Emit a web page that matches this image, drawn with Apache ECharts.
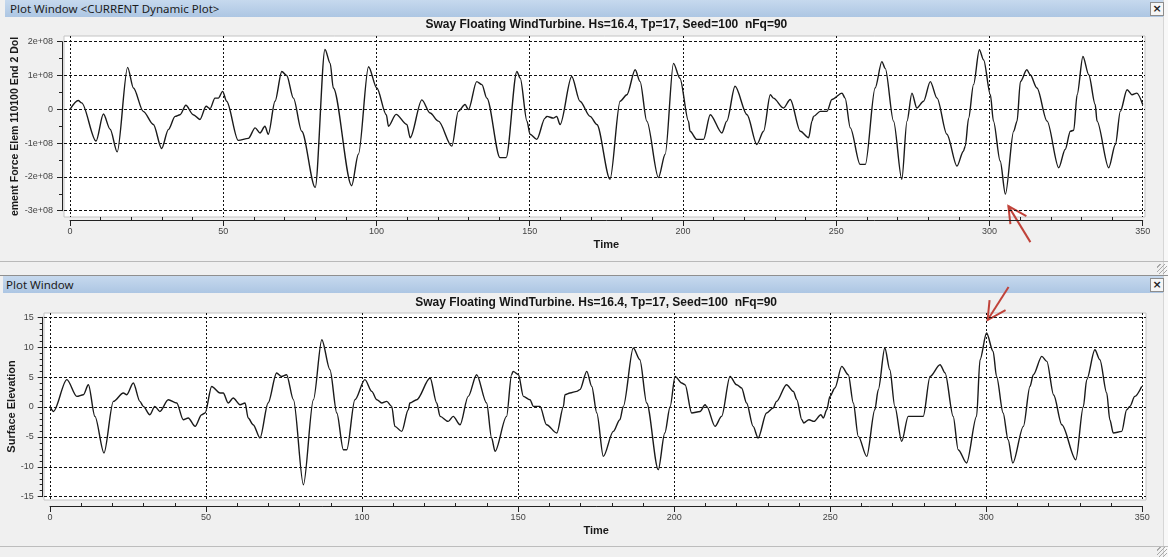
<!DOCTYPE html>
<html>
<head>
<meta charset="utf-8">
<title>Sway Floating WindTurbine</title>
<script src="https://cdn.jsdelivr.net/npm/echarts@6/dist/echarts.min.js"></script>
<style>
  html, body { margin: 0; padding: 0; width: 1168px; height: 557px; overflow: hidden; background: #f0f0f0; }
  .bar { position: absolute; height: 17px; background: linear-gradient(#c6d9ee, #adc6e3); color: #1b1b1b;
         font: 11.5px "Noto Sans", "Open Sans", sans-serif; line-height: 17px; box-sizing: border-box; white-space: pre; }
  .hline { position: absolute; left: 0; width: 1168px; height: 1px; }
  .close { position: absolute; width: 12px; height: 12px; border: 1px solid #8d8d8d; background: #f6f6f6;
           font: bold 11px "DejaVu Sans", sans-serif; line-height: 11px; text-align: center; color: #222; }
  .grip { position: absolute; width: 10px; height: 10px;
          background: repeating-linear-gradient(135deg, transparent 0 2px, #a8a8a8 2px 3px); }
  #chart { position: absolute; left: 0; top: 0; width: 1168px; height: 557px; }
</style>
</head>
<body>
<!-- window frames -->
<div style="position:absolute;left:1163px;top:0;width:5px;height:557px;background:#f8f8f8;border-left:1px solid #d6d6d6;"></div>
<div class="bar" style="left:5px;top:0;width:1158px;padding-left:5px;">Plot Window &lt;CURRENT Dynamic Plot&gt;</div>
<div class="close" style="left:1150px;top:2px;">×</div>
<div class="hline" style="top:261px;background:#b9b9b9;"></div>
<div class="grip" style="left:1157px;top:264px;"></div>
<div class="hline" style="top:275px;background:#8f8f8f;"></div>
<div class="bar" style="left:3px;top:276px;width:1160px;padding-left:3px;">Plot Window</div>
<div class="close" style="left:1150px;top:278px;">×</div>
<div class="hline" style="top:546px;background:#bdbdbd;"></div>
<div class="grip" style="left:1157px;top:547px;"></div>
<div id="chart"></div>
<script>
// ---- values ----
const timeTicks = [0, 50, 100, 150, 200, 250, 300, 350];
const forceTicks = [-3, -2, -1, 0, 1, 2];            // in units of 1e+08
const elevTicks = [-15, -10, -5, 0, 5, 10, 15];
const chartTitle = 'Sway Floating WindTurbine. Hs=16.4, Tp=17, Seed=100  nFq=90';
const timeName = 'Time';
const forceName = 'ement Force Elem 110100 End 2 Dol';
const elevName = 'Surface Elevation';

// moment force, units of 1e+08
const forceTime = [0,2.7,3.8,8.5,10.9,13.1,15.4,18.8,20.7,23.9,27.2,29.9,32.1,34.3,35.9,37.8,40.2,42.4,44.4,45.7,
  47.3,48.4,49.8,51.1,54.9,58.2,60.4,62.0,63.6,64.7,66.9,69.1,70.7,72.9,75.6,80.0,83.2,84.9,85.9,91.9,
  94.1,97.4,100.1,103.2,103.9,106.4,109.9,111.0,114.8,117.5,120.2,124.6,126.7,128.9,130.0,132.7,134.4,136.0,140.3,142.3,
  145.8,146.9,149.1,150.1,152.3,155.0,155.6,157.7,158.8,159.9,163.7,166.4,169.7,171.9,176.2,179.5,181.7,184.4,186.0,188.2,
  192.0,194.2,196.9,199.0,201.8,202.3,204.5,206.7,208.9,212.7,214.3,217.0,220.9,224.1,226.3,228.5,229.5,232.8,235.0,238.3,
  241.0,242.1,242.6,244.8,247.0,248.6,251.9,252.9,254.6,257.8,259.5,262.7,264.9,266.0,268.7,271.4,273.1,274.7,276.3,278.5,
  280.7,282.9,286.1,289.4,291.5,292.1,293.2,294.8,296.7,298.1,300.3,301.3,303.5,305.2,307.9,309.0,310.1,312.2,313.3,315.5,
  318.8,322.6,324.7,326.4,327.5,328.6,330.5,332.4,334.5,335.1,338.9,341.1,342.7,344.9,346.5,348.1,350.0];
const forceValue = [0,0.26,0.19,-0.94,-0.14,-0.59,-1.26,1.24,0.63,-0.06,-0.45,-1.16,-0.6,-0.21,-0.16,0.12,-0.16,-0.30,0.09,0.02,
  0.33,0.33,0.53,0.24,-0.92,-0.86,-0.55,-0.70,-0.50,-0.74,0.24,1.12,1.00,0.33,-0.65,-2.31,1.77,1.36,0.63,-2.26,
  -1.33,1.26,0.63,-0.16,-0.50,-0.15,-0.45,-0.84,0.28,-0.11,-0.35,-1.09,-0.06,0.14,-0.01,0.82,0.73,0.33,-1.43,-1.43,
  1.12,0.92,-0.35,-0.74,-0.89,-0.26,-0.21,-0.26,-0.21,-0.45,0.97,0.24,-0.21,-0.45,-2.07,0.24,0.43,1.17,0.82,-0.35,
  -2.02,-1.33,1.36,0.92,-0.35,-0.65,-0.89,-0.89,-0.16,-0.70,-0.35,0.68,-0.16,-1.04,-0.65,0.43,0.33,0.04,0.29,-0.65,
  -0.84,-0.35,-0.21,-0.06,-0.06,0.29,0.48,0.33,-0.55,-1.63,-1.63,0.63,1.41,1.21,-0.35,-2.07,-0.35,0.48,0.04,0.24,
  0.82,0.33,-0.74,-1.68,-1.24,-1.09,-0.26,0.73,1.76,1.46,0.43,-0.35,-1.53,-2.51,-0.65,-0.35,0.82,1.17,1.02,0.63,
  -0.35,-1.73,-1.19,-0.65,-0.62,0.43,1.56,1.02,0.14,-0.35,-1.73,-1.04,-0.06,0.58,0.43,0.48,0.14];

// surface elevation
const elevTime = [0,1.1,5.4,8.6,10.7,12.3,14.4,17.3,20.3,23.5,24.6,26.7,28.8,29.9,32.0,33.6,35.2,37.9,40.6,42.7,
  44.3,46.5,48.6,49.7,51.8,54.5,55.5,57.1,58.7,60.9,62.5,63.5,65.1,67.3,69.9,72.6,74.2,75.8,78.0,81.2,
  84.4,87.1,89.7,91.9,94.0,95.1,97.7,100.9,103.1,104.7,106.3,107.9,109.5,110.5,112.7,114.8,115.3,117.5,121.8,123.9,
  125.0,127.6,129.2,131.4,134.0,136.7,139.9,141.5,142.6,146.3,147.9,148.4,150.1,151.7,153.8,154.9,157.0,159.1,162.4,164.5,
  165.0,166.6,168.8,169.8,172.0,173.6,175.2,177.3,180.5,182.6,183.7,186.9,189.0,191.2,194.9,197.0,198.7,200.3,202.4,203.5,
  205.6,208.3,209.9,210.4,213.1,215.2,217.9,220.0,221.6,223.2,225.3,226.9,229.6,231.7,232.8,236.0,238.2,239.3,240.9,241.5,
  243.2,244.8,247.0,247.8,248.9,249.9,251.5,253.7,255.8,257.4,259.0,261.7,264.3,265.4,267.5,269.1,270.7,272.9,275.0,277.7,
  279.8,282.0,285.2,286.8,289.4,291.0,293.7,296.9,298.0,300.1,302.2,303.3,305.4,307.0,308.5,311.9,314.0,315.1,317.8,319.4,
  321.6,324.2,328.7,331.1,332.2,334.8,336.4,338.6,339.6,340.7,343.4,345.0,346.0,347.6,349.8];
const elevValue = [0.1,-0.74,4.57,1.77,2.06,3.73,-1.57,-7.69,0.94,2.34,2.06,4.01,0.94,0.1,-1.29,0.1,-0.74,1.22,0.67,-2.12,
  -1.84,-3.24,-1.29,-1.0,3.44,2.34,2.34,0.67,1.5,0.38,0.67,-1.84,-2.96,-5.18,0.67,5.69,5.12,5.4,1.22,-12.99,
  1.22,11.25,6.24,-1.0,-7.14,-7.14,1.22,4.57,2.61,1.22,0.67,0.94,0.1,-3.24,-4.08,-0.45,0.67,1.22,4.85,0.67,
  -1.57,-2.41,-1.57,-2.96,1.77,5.4,0.67,-5.18,-7.42,-1.57,5.4,5.95,5.4,1.77,1.22,0.1,0.1,-2.96,-4.35,0.05,
  2.06,2.34,2.61,2.9,5.95,3.44,-1.0,-8.26,-4.08,-2.12,0.1,9.87,7.91,0.67,-10.48,-4.35,0.05,5.12,4.01,3.73,
  -1.0,-0.74,0.38,0.1,-3.24,-1.57,5.12,3.73,3.18,0.67,-3.24,-5.18,-1.0,-0.17,0.94,3.73,2.61,1.22,-2.12,-2.68,
  -2.12,-2.41,-1.29,-1.84,-0.45,1.77,3.18,6.79,5.4,0.67,-4.92,-8.26,-0.45,2.9,9.87,6.24,0.1,-5.75,-1.57,-1.57,
  -1.57,5.12,7.07,5.69,-1.57,-7.14,-9.36,-1.57,7.91,12.37,9.3,5.12,-1.0,-5.47,-9.36,-3.24,3.44,5.4,8.46,7.63,
  2.0,-2.96,-8.81,0.05,4.57,9.58,7.91,2.34,-2.12,-4.35,-4.08,-0.45,0.1,1.77,3.44];

// ---- layout (px) ----
const FONT = '"Liberation Sans", Arial, sans-serif';
const panels = [
  { box: { l: 64, t: 36, r: 1145, b: 217 },      // white plotting surface
    data: { l: 70, t: 41.7, r: 1142.7, b: 210.7 },// where the tick range sits
    ticksY: forceTicks, yMinor: 2, yOff: 8, xOff: 9.3, titleY: 25,
    name: forceName, nameX: 15, nameSize: 10.5,
    fmt: v => v === 0 ? '0' : (v < 0 ? '-' : '') + Math.abs(v) + 'e+08',
    time: forceTime, value: forceValue },
  { box: { l: 44, t: 313, r: 1146, b: 500 },
    data: { l: 50, t: 317.3, r: 1142.3, b: 496.7 },
    ticksY: elevTicks, yMinor: 5, yOff: 7.3, xOff: 9.3, titleY: 303,
    name: elevName, nameX: 12, nameSize: 11,
    fmt: v => String(v),
    time: elevTime, value: elevValue }
];

// value range that fills the surface box while keeping the ticks at data.l/r/t/b
function extent(lo, hi, pLo, pHi, bLo, bHi) {
  const s = (pHi - pLo) / (hi - lo);
  return [lo - (pLo - bLo) / s, hi + (bHi - pHi) / s];
}

const grid = [], xAxis = [], yAxis = [], series = [], graphic = [];
const ink = '#111';
const hidden = { show: false, onZero: false };
panels.forEach((p, i) => {
  const yLo = p.ticksY[0], yHi = p.ticksY[p.ticksY.length - 1];
  const tLo = timeTicks[0], tHi = timeTicks[timeTicks.length - 1];
  const xe = extent(tLo, tHi, p.data.l, p.data.r, p.box.l, p.box.r);
  // vertical pixel axis runs downward, so map top edge to yHi
  const ys = (p.data.b - p.data.t) / (yHi - yLo);
  const yMax = yHi + (p.data.t - p.box.t) / ys;
  const yMin = yLo - (p.box.b - p.data.b) / ys;

  // surface grid: white background, dashed grid, the trace
  grid.push({ left: p.box.l, top: p.box.t, width: p.box.r - p.box.l, height: p.box.b - p.box.t,
              show: true, backgroundColor: '#ffffff', borderColor: '#c4c4c4', borderWidth: 1 });
  // axis grid: exactly the tick range, carries the offset axes
  grid.push({ left: p.data.l, top: p.data.t, width: p.data.r - p.data.l, height: p.data.b - p.data.t, show: false });

  const g0 = 2 * i, g1 = 2 * i + 1;
  xAxis.push({ gridIndex: g0, type: 'value', min: xe[0], max: xe[1],
    axisLine: hidden, axisLabel: { show: false },
    axisTick: { show: false, customValues: timeTicks },
    splitLine: { show: true, lineStyle: { color: ink, width: 1, type: [2, 2] } } });
  xAxis.push({ gridIndex: g1, type: 'value', min: tLo, max: tHi, interval: 50, offset: p.xOff, position: 'bottom',
    axisLine: { show: true, onZero: false, lineStyle: { color: '#222', width: 1 } },
    axisTick: { show: true, inside: false, length: 6, lineStyle: { color: '#222' } },
    minorTick: { show: true, splitNumber: 5, length: -3, lineStyle: { color: '#222' } },
    axisLabel: { margin: 7, fontSize: 9, color: '#444', fontFamily: FONT },
    splitLine: { show: false },
    name: timeName, nameLocation: 'middle', nameGap: 19,
    nameTextStyle: { fontSize: 11, fontWeight: 'bold', color: '#1a1a1a', fontFamily: FONT } });

  yAxis.push({ gridIndex: g0, type: 'value', min: yMin, max: yMax,
    axisLine: hidden, axisLabel: { show: false },
    axisTick: { show: false, customValues: p.ticksY },
    splitLine: { show: true, lineStyle: { color: ink, width: 1, type: [3, 2] } } });
  yAxis.push({ gridIndex: g1, type: 'value', min: yLo, max: yHi, interval: p.ticksY[1] - p.ticksY[0],
    offset: p.yOff, position: 'left',
    axisLine: { show: true, onZero: false, lineStyle: { color: '#222', width: 1 } },
    axisTick: { show: true, inside: false, length: 5, lineStyle: { color: '#222' } },
    minorTick: { show: true, splitNumber: p.yMinor, length: 3, lineStyle: { color: '#222' } },
    axisLabel: { margin: 9, fontSize: 9, color: '#444', fontFamily: FONT, formatter: p.fmt },
    splitLine: { show: false } });

  series.push({ type: 'line', xAxisIndex: g0, yAxisIndex: g0,
    data: p.time.map((t, k) => [t, p.value[k]]),
    showSymbol: false, symbol: 'none', silent: true, clip: true,
    smooth: 0.3, smoothMonotone: 'x',
    lineStyle: { color: '#1a1a1a', width: 1.4 } });

  graphic.push({ type: 'text', x: (p.data.l + p.data.r) / 2, y: p.titleY,
    style: { text: chartTitle, fill: '#151515', font: 'bold 12px ' + FONT, textAlign: 'center', textVerticalAlign: 'middle' } });
  graphic.push({ type: 'text', x: p.nameX, y: (p.box.t + p.box.b) / 2, rotation: Math.PI / 2,
    style: { text: p.name, fill: '#1a1a1a', font: 'bold ' + p.nameSize + 'px ' + FONT, textAlign: 'center', textVerticalAlign: 'middle' } });
});

const chart = echarts.init(document.getElementById('chart'), null, { renderer: 'canvas' });
chart.setOption({ animation: false, grid, xAxis, yAxis, series, graphic });

// red call-out arrows at the deepest sway-force trough and the highest crest
function arrowAt(gridIdx, t, v, dx, dy, tail, heads) {
  const p = chart.convertToPixel({ gridIndex: gridIdx }, [t, v]);
  const tip = [p[0] + dx, p[1] + dy];
  const st = { stroke: '#c0433a', lineWidth: 2, fill: null };
  const out = [{ type: 'polyline', shape: { points: [tip, [tip[0] + tail[0], tip[1] + tail[1]]] }, style: st }];
  out.push({ type: 'polyline', shape: { points: [[tip[0] + heads[0][0], tip[1] + heads[0][1]], tip, [tip[0] + heads[1][0], tip[1] + heads[1][1]]] }, style: st });
  return out;
}
const ft = forceValue.indexOf(Math.min(...forceValue));
const ec = elevValue.indexOf(Math.max(...elevValue));
const arrows = [].concat(
  arrowAt(0, forceTime[ft], forceValue[ft], 3, 12, [22, 36], [[18, 10], [2, 18]]),
  arrowAt(2, elevTime[ec], elevValue[ec], 1, -13, [21, -33], [[18, -10], [2, -20]])
);
chart.setOption({ graphic: graphic.concat(arrows) });
</script>
</body>
</html>
